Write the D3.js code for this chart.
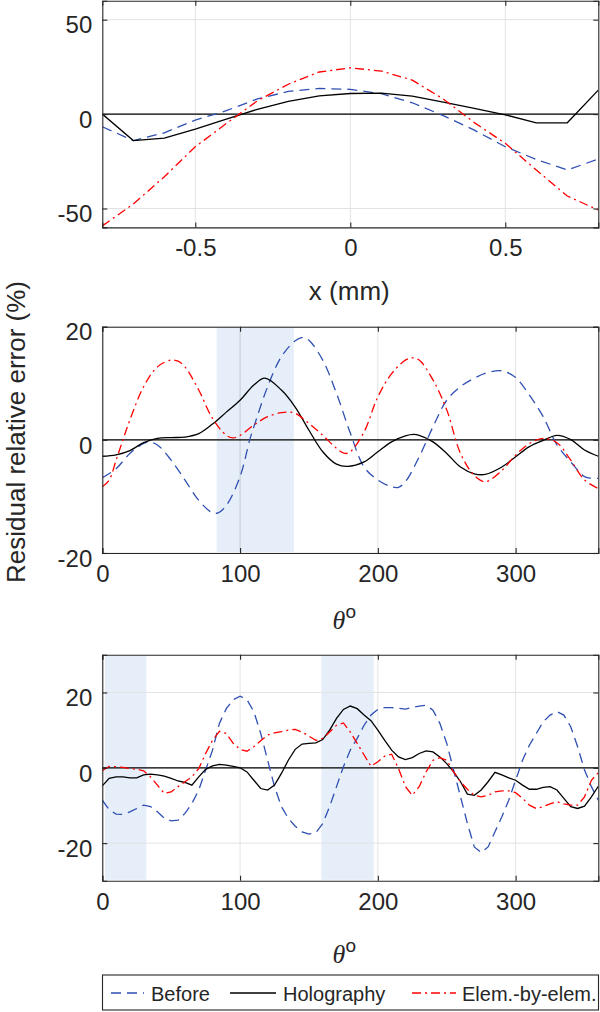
<!DOCTYPE html>
<html>
<head>
<meta charset="utf-8">
<script src="https://cdn.jsdelivr.net/npm/d3@7"></script>
<style>
  html, body { margin: 0; padding: 0; background: #fff; }
  svg { display: block; }
  text { font-family: "Liberation Sans", Arial, sans-serif; fill: #262626; }
</style>
</head>
<body>
<svg id="chart" width="600" height="1012"></svg>
<script>
// ---------------- DATA ----------------
// Panel 1: residual error vs x (mm)
const p1X      = [-0.8,-0.7,-0.6,-0.5,-0.4,-0.3,-0.2,-0.1,0,0.1,0.2,0.3,0.4,0.5,0.6,0.7,0.8];
const p1Before = [-6.7,-14,-9.9,-3.2,1.8,8,12,13.6,13.1,10.8,6,-0.8,-8.5,-17.3,-24,-29.6,-23.8];
const p1Holo   = [0,-14,-12.7,-8,-2.6,2.5,6.7,9.7,10.9,11.1,9.5,6.3,3.0,-0.4,-4.6,-4.6,12.7];
const p1Elem   = [-59.2,-47.6,-33.2,-17.3,-5,7,15.8,22.3,24.5,22.8,18,8,-4.5,-15.5,-29.6,-43.4,-50.8];
const p1XTicks = [-0.5, 0, 0.5];
const p1YTicks = [-50, 0, 50];

// Panel 2: residual error vs theta (deg)
const p2BeforeT = [0,10,20,30,34,40,50,60,70,80,84,90,100,107,110,120,130,140,146,150,160,170,180,190,200,210,215,220,230,240,250,260,270,280,290,300,310,320,330,340,350,355,360];
const p2BeforeV = [-6.7,-5.1,-2.4,-0.65,-0.4,-0.9,-3.6,-7.1,-10.7,-12.9,-12.9,-11.6,-6.5,0,2.3,9.4,14.7,17.5,18.1,17.6,14.1,8.2,1.2,-4.8,-7.1,-8.3,-8.4,-7.4,-3.0,2.3,7.0,9.4,10.9,11.9,12.2,11.0,7.9,4.1,-0.9,-3.9,-6.5,-6.8,-6.8];
const p2HoloT = [0,10,20,30,40,50,60,70,80,90,100,110,118,130,140,150,160,170,178,190,200,210,220,226,230,240,250,260,270,278,290,300,310,320,330,340,350,360];
const p2HoloV = [-2.9,-2.65,-1.9,-0.5,0.25,0.4,0.5,1.1,2.8,4.9,7.0,9.7,10.9,8.8,5.8,1.7,-2.1,-4.3,-4.7,-3.9,-2.1,-0.35,0.7,0.95,0.8,-0.35,-2.4,-4.8,-6.0,-6.1,-4.8,-3.0,-1.2,-0.1,0.8,0.05,-1.8,-2.9];
const p2ElemT = [0,5,10,15,20,30,40,50,55,60,70,80,90,95,100,110,120,130,135,140,150,160,170,176,180,190,200,210,220,225,230,240,250,260,270,278,290,300,310,320,330,340,350,360];
const p2ElemV = [-8.3,-7.1,-3.6,0,3.5,9.4,12.9,14.1,13.9,12.9,8.8,3.8,0.8,0.35,0.8,2.6,4.1,4.8,4.9,4.7,2.9,0.8,-1.5,-2.4,-2.1,1.4,7.6,11.7,14.1,14.5,14.1,10.6,5.3,-2.4,-6.3,-7.4,-5.4,-2.7,-0.65,0.25,-0.5,-3.6,-7.1,-8.6];
const p2Band = [83, 139];
const p2YTicks = [-20, 0, 20];

// Panel 3: residual error vs theta (deg), sampled every 5 deg
const p3T = d3.range(0, 361, 5);
const p3Before = [-8.6,-11.1,-12.3,-12.4,-11.7,-10.8,-9.9,-10.3,-11.7,-13.4,-14.1,-13.9,-12.1,-9.5,-5.9,-0.6,4.7,11.8,15.7,18.1,19.0,18.1,14.9,9.1,2.0,-5.0,-10.3,-13.4,-15.5,-17.0,-17.6,-17.2,-14.8,-10.3,-5.0,0.3,4.7,7.8,11.3,14.0,15.5,16.0,16.0,15.8,15.6,16.0,16.4,16.6,15.3,11.8,6.5,-0.6,-7.7,-14.8,-21.0,-22.5,-21.0,-17.0,-13.0,-8.6,-3.3,2.0,6.0,9.1,12.2,14.0,14.9,14.0,10.9,5.6,-0.6,-5.0,-8.6];
const p3Holo = [-4.8,-2.8,-2.4,-2.4,-2.7,-2.7,-1.9,-1.7,-1.9,-2.2,-2.8,-3.5,-3.9,-4.6,-2.4,-0.4,0.5,0.9,0.7,0.4,0,-1.1,-3.3,-5.5,-5.9,-4.6,-1.5,2.0,4.9,6.3,6.5,6.6,7.5,10.0,13.1,15.5,16.4,15.7,14.0,12.5,10.0,7.3,4.7,2.9,2.2,2.7,3.8,4.5,4.2,2.9,1.1,-1.1,-3.7,-7.0,-7.3,-5.9,-3.7,-1.2,-1.9,-2.7,-3.3,-4.6,-5.7,-5.7,-5.2,-5.0,-5.9,-8.1,-10.3,-10.8,-10.2,-7.7,-4.9];
const p3Elem = [-0.8,0.4,0.3,0.1,-0.2,-0.4,-0.8,-2.4,-4.6,-6.8,-6.4,-5.0,-3.7,-2.4,-0.2,3.8,7.3,9.7,9.1,6.5,4.9,4.4,5.6,7.2,8.7,9.3,9.6,10.0,10.2,9.5,8.4,7.3,7.8,9.5,11.3,11.9,9.5,6.5,3.4,0.4,1.6,3.1,3.6,-0.2,-5.0,-7.3,-5.0,-1.1,2.0,2.7,2.0,-1.1,-3.7,-5.7,-7.3,-7.7,-7.3,-6.4,-6.1,-6.1,-6.6,-8.1,-9.9,-10.8,-10.3,-9.6,-9.0,-9.6,-9.9,-9.9,-7.7,-3.3,-1.3];
const p3Bands = [[2, 32], [159, 197]];
const p3YTicks = [-20, 0, 20];

const thetaTicks = [0, 100, 200, 300];
const legendLabels = ["Before", "Holography", "Elem.-by-elem."];

// ---------------- STYLE ----------------
const C_BLUE = "#2f4fb2", C_RED = "#ff0000", C_BLACK = "#000000";
const DASH_BLUE = "10,6", DASH_RED = "9,4,2,4";
const AX = "#262626", GRID = "#e3e3e3", BAND = "#e5eef9";
const L = 102.3, R = 598.3;
const fmtTick = d => String(d); // plain hyphen-minus, as in the original

const svg = d3.select("#chart");

function panel(cfg) {
  const g = svg.append("g");
  const x = d3.scaleLinear().domain(cfg.xDomain).range([L, R]);
  const y = d3.scaleLinear().domain(cfg.yDomain).range([cfg.bottom, cfg.top]);
  const id = "clip" + cfg.name;
  svg.append("clipPath").attr("id", id).append("rect")
    .attr("x", L).attr("y", cfg.top).attr("width", R - L).attr("height", cfg.bottom - cfg.top);

  (cfg.bands || []).forEach(b => {
    g.append("rect").attr("x", x(b[0])).attr("y", cfg.top + 1)
      .attr("width", x(b[1]) - x(b[0])).attr("height", cfg.bottom - cfg.top - 2)
      .attr("fill", BAND);
  });

  g.append("g").selectAll("line").data(cfg.xTicks).join("line")
    .attr("x1", d => x(d)).attr("x2", d => x(d)).attr("y1", cfg.top).attr("y2", cfg.bottom)
    .attr("stroke", d => {
      const inBand = (cfg.bands || []).some(b => d > b[0] && d < b[1]);
      return inBand ? "#c3cad3" : GRID;
    }).attr("stroke-width", 1);
  g.append("g").selectAll("line").data(cfg.yTicks).join("line")
    .attr("x1", L).attr("x2", R).attr("y1", d => y(d)).attr("y2", d => y(d))
    .attr("stroke", GRID).attr("stroke-width", 1);

  g.append("line").attr("x1", L).attr("x2", R).attr("y1", y(0)).attr("y2", y(0))
    .attr("stroke", "#000").attr("stroke-width", 1.2);

  const lines = g.append("g").attr("clip-path", `url(#${id})`);
  cfg.series.forEach(s => {
    const pts = s.t.map((t, i) => [t, s.v[i]]);
    lines.append("path").datum(pts)
      .attr("fill", "none").attr("stroke", s.color).attr("stroke-width", 1.3)
      .attr("stroke-dasharray", s.dash || null)
      .attr("d", d3.line().x(d => x(d[0])).y(d => y(d[1])).curve(cfg.curve)(pts));
  });

  const tl = 5;
  const axB = d3.axisBottom(x).tickValues(cfg.xTicks).tickSize(-tl).tickPadding(18).tickFormat(fmtTick);
  const axT = d3.axisTop(x).tickValues(cfg.xTicks).tickSize(-tl).tickFormat("");
  const axLft = d3.axisLeft(y).tickValues(cfg.yTicks).tickSize(-tl).tickPadding(10).tickFormat(fmtTick);
  const axRt = d3.axisRight(y).tickValues(cfg.yTicks).tickSize(-tl).tickFormat("");
  const style = sel => {
    sel.select(".domain").attr("stroke", AX).attr("stroke-width", 1.1);
    sel.selectAll(".tick line").attr("stroke", AX).attr("stroke-width", 1.1);
    sel.selectAll(".tick text").style("font-family", '"Liberation Sans", Arial, sans-serif')
      .style("font-size", "24px").attr("fill", AX);
  };
  svg.append("g").attr("transform", `translate(0,${cfg.bottom})`).call(axB).call(style)
    .selectAll(".tick text").attr("dy", "0.71em").attr("y", 12);
  svg.append("g").attr("transform", `translate(0,${cfg.top})`).call(axT).call(style);
  const gl = svg.append("g").attr("transform", `translate(${L},0)`).call(axLft).call(style);
  gl.selectAll(".tick text").attr("dy", "0.55em").attr("x", -10);
  svg.append("g").attr("transform", `translate(${R},0)`).call(axRt).call(style);

  if (cfg.xLabel === "mm") {
    svg.append("text").attr("x", (L + R) / 2 - 1).attr("y", cfg.bottom + 73)
      .attr("text-anchor", "middle").style("font-size", "26px").text("x (mm)");
  } else {
    const t = svg.append("text").attr("x", (L + R) / 2 - 6).attr("y", cfg.bottom + cfg.labelOff)
      .attr("text-anchor", "middle");
    t.append("tspan").style("font-family", '"Liberation Serif", "Times New Roman", serif')
      .style("font-style", "italic").style("font-size", "26px").text("θ");
    t.append("tspan").attr("dy", -11).style("font-size", "19px").text("o");
  }
}

panel({
  name: "p1", xDomain: [-0.8, 0.8], yDomain: [-60, 60], top: 0.8, bottom: 227.4,
  xTicks: p1XTicks, yTicks: p1YTicks, curve: d3.curveLinear, xLabel: "mm",
  series: [
    { t: p1X, v: p1Before, color: C_BLUE, dash: DASH_BLUE },
    { t: p1X, v: p1Holo, color: C_BLACK },
    { t: p1X, v: p1Elem, color: C_RED, dash: DASH_RED }
  ]
});
panel({
  name: "p2", xDomain: [0, 360], yDomain: [-20, 20], top: 326.7, bottom: 553, labelOff: 76,
  xTicks: thetaTicks, yTicks: p2YTicks, curve: d3.curveCatmullRom.alpha(0.5), bands: [p2Band],
  series: [
    { t: p2BeforeT, v: p2BeforeV, color: C_BLUE, dash: DASH_BLUE },
    { t: p2HoloT, v: p2HoloV, color: C_BLACK },
    { t: p2ElemT, v: p2ElemV, color: C_RED, dash: DASH_RED }
  ]
});
panel({
  name: "p3", xDomain: [0, 360], yDomain: [-30, 30], top: 654.8, bottom: 880.8, labelOff: 82,
  xTicks: thetaTicks, yTicks: p3YTicks, curve: d3.curveLinear, bands: p3Bands,
  series: [
    { t: p3T, v: p3Before, color: C_BLUE, dash: DASH_BLUE },
    { t: p3T, v: p3Holo, color: C_BLACK },
    { t: p3T, v: p3Elem, color: C_RED, dash: DASH_RED }
  ]
});

// y label
svg.append("text").attr("transform", "translate(24.5,432) rotate(-90)")
  .attr("text-anchor", "middle").style("font-size", "26px").text("Residual relative error (%)");

// legend
const lg = svg.append("g");
lg.append("rect").attr("x", 102.5).attr("y", 975).attr("width", 496).attr("height", 35)
  .attr("fill", "#fff").attr("stroke", AX).attr("stroke-width", 1.1);
const legItems = [
  { label: legendLabels[0], color: C_BLUE, dash: DASH_BLUE, x1: 111, x2: 144, tx: 151 },
  { label: legendLabels[1], color: C_BLACK, dash: null, x1: 230, x2: 276, tx: 283 },
  { label: legendLabels[2], color: C_RED, dash: DASH_RED, x1: 412, x2: 456, tx: 462 }
];
legItems.forEach(it => {
  lg.append("line").attr("x1", it.x1).attr("x2", it.x2).attr("y1", 993).attr("y2", 993)
    .attr("stroke", it.color).attr("stroke-width", 1.3).attr("stroke-dasharray", it.dash);
  lg.append("text").attr("x", it.tx).attr("y", 1000.5).style("font-size", "20px").text(it.label);
});
</script>
</body>
</html>
